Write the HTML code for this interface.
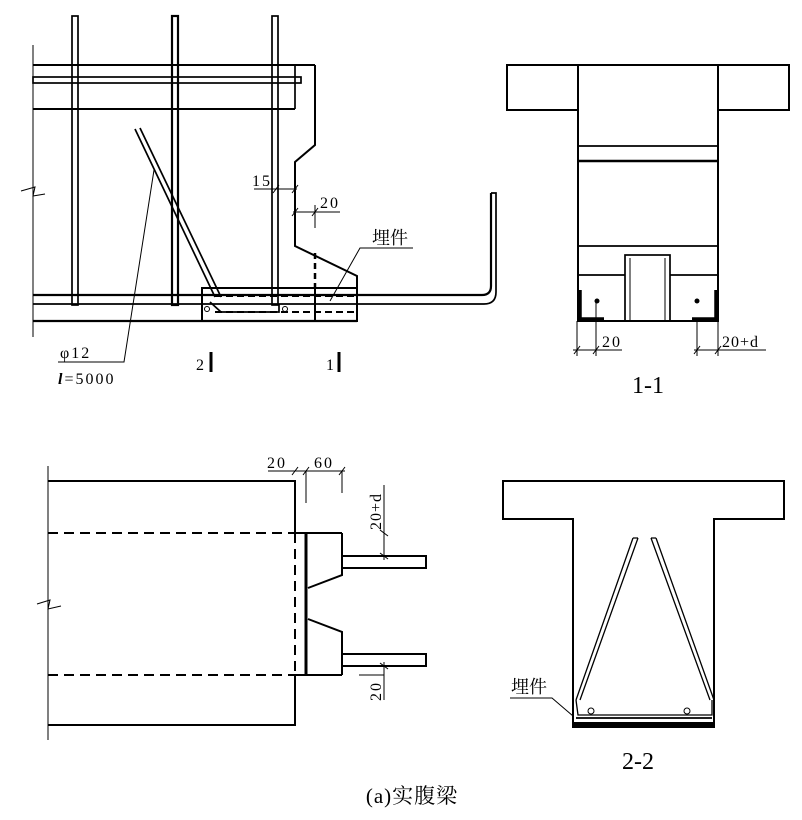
<!DOCTYPE html>
<html><head><meta charset="utf-8"><style>
html,body{margin:0;padding:0;background:#fff;}
svg{display:block;}
text{font-family:"Liberation Serif","Noto Serif CJK SC",serif;fill:#000;}
.d{font-size:16px;letter-spacing:2px;}
</style></head><body>
<svg width="802" height="820" viewBox="0 0 802 820" xmlns="http://www.w3.org/2000/svg" fill="none" stroke="#000" stroke-width="1.7">
<!-- ===== Top-left elevation ===== -->
<line x1="33" y1="45" x2="33" y2="337" stroke-width="1"/>
<line x1="29" y1="188" x2="37" y2="198" stroke="#fff" stroke-width="0"/>
<polyline points="21,191 35,187 33,196 45,194" stroke-width="1"/>
<!-- stirrups -->
<rect x="72" y="16" width="6" height="289"/>
<rect x="172" y="16" width="6" height="289" stroke-width="2.2"/>
<rect x="272" y="16" width="6" height="289"/>
<!-- top slab -->
<line x1="33" y1="65" x2="315" y2="65" stroke-width="2"/>
<rect x="33" y="77" width="268" height="6"/>
<line x1="33" y1="109" x2="295" y2="109" stroke-width="2"/>
<line x1="295" y1="65" x2="295" y2="109"/>
<polyline points="315,65 315,145 295,162 295,246 357,276 357,321" stroke-width="2"/>
<!-- bottom lines -->
<path d="M33,295 H482 Q491,295 491,286 V193" stroke-width="2.2"/>
<path d="M33,304 H484 Q496,304 496,292 V193 H491"/>
<line x1="33" y1="321" x2="357" y2="321" stroke-width="2.2"/>
<!-- embedded block -->
<rect x="202" y="288" width="155" height="33" stroke-width="2"/>
<line x1="315" y1="253" x2="315" y2="288" stroke-width="2.5" stroke-dasharray="6,4"/>
<line x1="315" y1="288" x2="315" y2="321" stroke-width="2"/>
<line x1="215" y1="296" x2="355" y2="296" stroke-width="2" stroke-dasharray="7,4"/>
<line x1="215" y1="312" x2="355" y2="312" stroke-width="2" stroke-dasharray="7,4"/>
<path d="M210,302 L221,312 H279 V304"/>
<circle cx="207" cy="309" r="2.5" stroke-width="1"/>
<circle cx="285" cy="309" r="2.5" stroke-width="1"/>
<!-- diagonal bar -->
<line x1="135" y1="129" x2="215" y2="297"/>
<line x1="140" y1="128" x2="221" y2="297"/>
<!-- leader phi12 -->
<polyline points="154,170 124,362 58,362" stroke-width="1"/>
<text x="60" y="358" class="d" stroke="none">φ12</text>
<text x="58" y="384" class="d" stroke="none"><tspan font-style="italic" font-weight="bold">l</tspan>=5000</text>
<!-- section marks -->
<text x="196" y="370" class="d" stroke="none">2</text>
<line x1="211" y1="352" x2="211" y2="372" stroke-width="3"/>
<text x="326" y="370" class="d" stroke="none">1</text>
<line x1="339" y1="352" x2="339" y2="372" stroke-width="3"/>
<!-- dims 15 / 20 -->
<text x="252" y="186" class="d" stroke="none">15</text>
<line x1="254" y1="189" x2="297" y2="189" stroke-width="1"/>
<line x1="273" y1="193" x2="279" y2="185" stroke-width="1"/>
<line x1="292" y1="193" x2="298" y2="185" stroke-width="1"/>
<text x="320" y="208" class="d" stroke="none">20</text>
<line x1="293" y1="212" x2="340" y2="212" stroke-width="1"/>
<line x1="315" y1="205" x2="315" y2="228" stroke-width="1"/>
<line x1="292" y1="216" x2="298" y2="208" stroke-width="1"/>
<line x1="312" y1="216" x2="318" y2="208" stroke-width="1"/>
<!-- 埋件 -->
<text x="372" y="244" font-size="18" stroke="none" font-family="Noto Sans CJK SC, sans-serif">埋件</text>
<polyline points="413,248 360,248 330,301" stroke-width="1"/>

<!-- ===== 1-1 section ===== -->
<rect x="507" y="65" width="282" height="45" stroke-width="2"/>
<rect x="578" y="65" width="140" height="256" stroke-width="2" fill="#fff"/>
<line x1="578" y1="146" x2="718" y2="146"/>
<line x1="578" y1="161" x2="718" y2="161" stroke-width="2.5"/>
<line x1="578" y1="246" x2="718" y2="246"/>
<line x1="578" y1="275" x2="625" y2="275"/>
<line x1="670" y1="275" x2="718" y2="275"/>
<rect x="625" y="255" width="45" height="66"/>
<line x1="630" y1="258" x2="630" y2="321" stroke-width="1"/>
<line x1="665" y1="258" x2="665" y2="321" stroke-width="1"/>
<path d="M580,290 V319 H604" stroke-width="3.5"/>
<path d="M716,290 V319 H692" stroke-width="3.5"/>
<circle cx="597" cy="301" r="2.5" fill="#000" stroke="none"/>
<circle cx="697" cy="301" r="2.5" fill="#000" stroke="none"/>
<line x1="577" y1="321" x2="577" y2="356" stroke-width="1"/>
<line x1="596" y1="301" x2="596" y2="356" stroke-width="1"/>
<line x1="573" y1="350" x2="622" y2="350" stroke-width="1"/>
<line x1="574" y1="354" x2="580" y2="346" stroke-width="1"/>
<line x1="593" y1="354" x2="599" y2="346" stroke-width="1"/>
<text x="602" y="347" class="d" stroke="none">20</text>
<line x1="697" y1="321" x2="697" y2="356" stroke-width="1"/>
<line x1="718" y1="321" x2="718" y2="356" stroke-width="1"/>
<line x1="694" y1="350" x2="766" y2="350" stroke-width="1"/>
<line x1="694" y1="354" x2="700" y2="346" stroke-width="1"/>
<line x1="715" y1="354" x2="721" y2="346" stroke-width="1"/>
<text x="722" y="347" font-size="16" stroke="none" letter-spacing="1">20+d</text>
<text x="648" y="393" font-size="24" stroke="none" text-anchor="middle">1-1</text>

<!-- ===== Bottom-left plan ===== -->
<line x1="48" y1="466" x2="48" y2="740" stroke-width="1"/>
<polyline points="37,604 50,600 48,609 61,606" stroke-width="1"/>
<polyline points="48,481 295,481 295,533" stroke-width="2"/>
<polyline points="48,725 295,725 295,675" stroke-width="2"/>
<line x1="295" y1="533" x2="295" y2="675" stroke-width="2" stroke-dasharray="10,6"/>
<line x1="48" y1="533" x2="295" y2="533" stroke-width="2" stroke-dasharray="10,6"/>
<line x1="48" y1="675" x2="295" y2="675" stroke-width="2" stroke-dasharray="10,6"/>
<line x1="306" y1="533" x2="306" y2="675" stroke-width="3"/>
<line x1="295" y1="533" x2="342" y2="533" stroke-width="2"/>
<line x1="295" y1="675" x2="342" y2="675" stroke-width="2"/>
<polyline points="342,533 342,575 308,588" stroke-width="2"/>
<polyline points="308,619 342,632 342,675" stroke-width="2"/>
<rect x="342" y="556" width="84" height="12" stroke-width="2"/>
<rect x="342" y="654" width="84" height="12" stroke-width="2"/>
<!-- dims -->
<text x="267" y="468" class="d" stroke="none">20</text>
<text x="314" y="468" class="d" stroke="none">60</text>
<line x1="268" y1="471" x2="345" y2="471" stroke-width="1"/>
<line x1="292" y1="475" x2="298" y2="467" stroke-width="1"/>
<line x1="303" y1="475" x2="309" y2="467" stroke-width="1"/>
<line x1="339" y1="475" x2="345" y2="467" stroke-width="1"/>
<line x1="306" y1="471" x2="306" y2="503" stroke-width="1"/>
<line x1="342" y1="471" x2="342" y2="493" stroke-width="1"/>
<line x1="384" y1="485" x2="384" y2="560" stroke-width="1"/>
<line x1="380" y1="530" x2="388" y2="536" stroke-width="1"/>
<line x1="380" y1="553" x2="388" y2="559" stroke-width="1"/>
<text transform="translate(381,530) rotate(-90)" font-size="16" letter-spacing="1" stroke="none">20+d</text>
<line x1="384" y1="662" x2="384" y2="700" stroke-width="1"/>
<line x1="380" y1="663" x2="388" y2="669" stroke-width="1"/>
<line x1="359" y1="675" x2="384" y2="675" stroke-width="1"/>
<text transform="translate(381,701) rotate(-90)" class="d" stroke="none">20</text>

<!-- ===== 2-2 section ===== -->
<path d="M503,481 H784 V519 H714 V727 H573 V519 H503 Z" stroke-width="2"/>
<path d="M633,538 L576,700 M638,538 L580,700 M633,538 L638,538" stroke-width="1.3"/>
<path d="M651,538 L710,700 M656,538 L714,700 M651,538 L656,538" stroke-width="1.3"/>
<path d="M576,700 L578,715 H712 L712,700" stroke-width="1.3"/>
<line x1="574" y1="724" x2="713" y2="724" stroke-width="4"/>
<line x1="576" y1="718" x2="712" y2="718"/>
<circle cx="591" cy="711" r="3" stroke-width="1"/>
<circle cx="687" cy="711" r="3" stroke-width="1"/>
<text x="511" y="693" font-size="18" stroke="none" font-family="Noto Sans CJK SC, sans-serif">埋件</text>
<polyline points="510,698 552,698 573,716" stroke-width="1"/>
<text x="638" y="769" font-size="24" stroke="none" text-anchor="middle">2-2</text>

<text x="412" y="803" font-size="21" letter-spacing="1" stroke="none" text-anchor="middle">(a)实腹梁</text>
</svg>
</body></html>
